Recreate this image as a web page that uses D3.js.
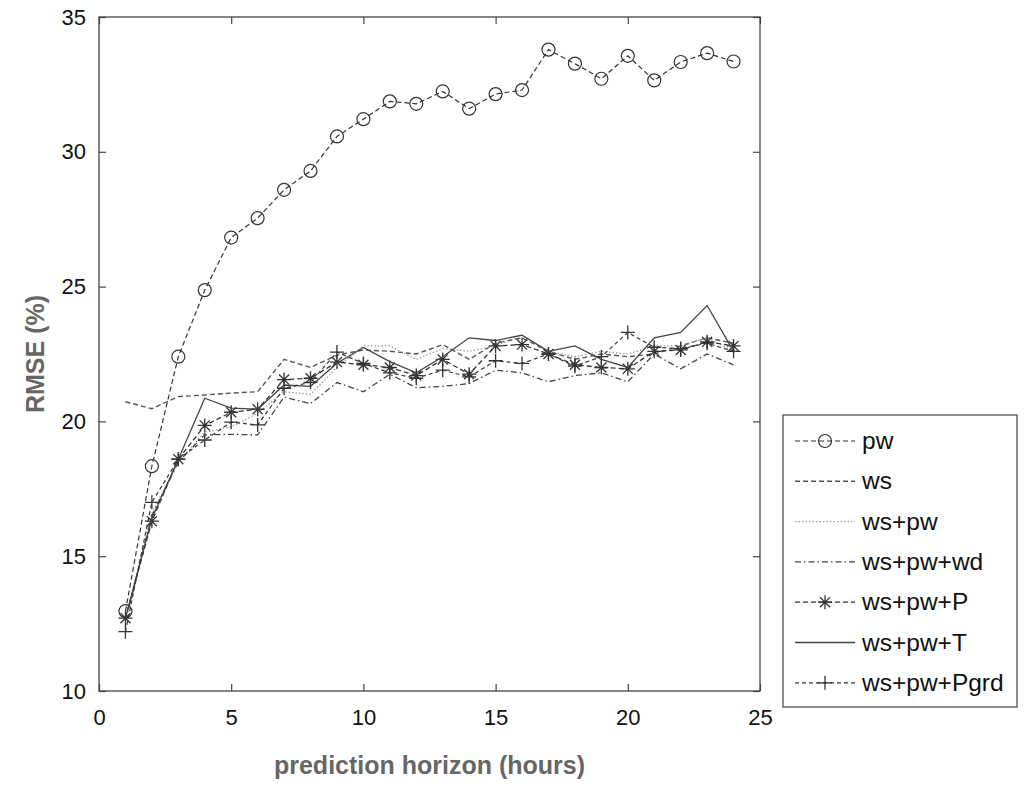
<!DOCTYPE html>
<html>
<head>
<meta charset="utf-8">
<script src="https://cdn.jsdelivr.net/npm/d3@7"></script>
<style>
  body { margin: 0; background: #fff; }
  text { font-family: "Liberation Sans", Arial, sans-serif; }
</style>
</head>
<body>
<div id="chart"></div>
<script>
/* DATA */
const hours = d3.range(1, 25);
const seriesNames = ["pw", "ws", "ws+pw", "ws+pw+wd", "ws+pw+P", "ws+pw+T", "ws+pw+Pgrd"];

const pw     = [12.96, 18.34, 22.4, 24.87, 26.82, 27.54, 28.59, 29.29, 30.57, 31.21, 31.87, 31.78,
                32.24, 31.6, 32.14, 32.29, 33.79, 33.27, 32.71, 33.56, 32.65, 33.33, 33.66, 33.35];
const ws     = [20.73, 20.47, 20.92, 20.98, 21.05, 21.1, 22.3, 22.0, 22.46, 22.65, 22.6, 22.5,
                22.85, 22.3, 22.9, 23.1, 22.6, 22.3, 22.5, 22.4, 22.5, 22.8, 23.1, 22.9];
const wsPw   = [12.7, 16.6, 18.5, 19.6, 19.8, 20.3, 21.1, 21.0, 22.0, 22.8, 22.8, 22.3,
                22.7, 22.6, 22.8, 23.2, 22.6, 22.4, 22.6, 22.5, 22.8, 22.8, 23.1, 22.6];
const wsPwWd = [12.6, 16.5, 18.5, 19.5, 19.52, 19.5, 20.9, 20.66, 21.44, 21.1, 21.75, 21.25,
                21.3, 21.4, 21.9, 21.8, 21.47, 21.7, 21.8, 21.47, 22.5, 21.95, 22.5, 22.1];
const wsPwP  = [12.7, 16.3, 18.6, 19.85, 20.34, 20.45, 21.55, 21.6, 22.2, 22.1, 22.0, 21.7,
                22.3, 21.75, 22.8, 22.85, 22.5, 22.1, 22.0, 21.95, 22.6, 22.65, 22.95, 22.8];
const wsPwT  = [12.7, 16.4, 18.6, 20.86, 20.49, 20.45, 21.35, 21.3, 22.16, 22.74, 22.22, 21.8,
                22.4, 23.1, 23.0, 23.2, 22.6, 22.8, 22.3, 22.0, 23.1, 23.3, 24.3, 22.6];
const wsPwPg = [12.2, 17.0, 18.6, 19.31, 19.97, 19.87, 21.23, 21.45, 22.57, 22.15, 21.8, 21.6,
                21.9, 21.65, 22.25, 22.15, 22.5, 22.05, 22.4, 23.3, 22.75, 22.7, 22.9, 22.6];

const xTicks = [0, 5, 10, 15, 20, 25];
const yTicks = [10, 15, 20, 25, 30, 35];

const values = [pw, ws, wsPw, wsPwWd, wsPwP, wsPwT, wsPwPg];

// line styles (MATLAB look)
const styles = [
  { dash: "5,3", color: "#333", width: 1.2, marker: "o" },
  { dash: "5,3", color: "#555", width: 1.4, marker: null },
  { dash: "1.5,2", color: "#999", width: 1.2, marker: null },
  { dash: "6,3,1.5,3", color: "#444", width: 1.3, marker: null },
  { dash: "5,3", color: "#333", width: 1.3, marker: "*" },
  { dash: null, color: "#444", width: 1.3, marker: null },
  { dash: "4,3", color: "#333", width: 1.2, marker: "+" }
];

const W = 1025, H = 785;
const margin = { top: 17, right: 265, bottom: 94, left: 99 };
const width = 760 - margin.left;
const height = 691 - margin.top;

const svg = d3.select("#chart").append("svg")
  .attr("width", W).attr("height", H);

const g = svg.append("g")
  .attr("transform", `translate(${margin.left},${margin.top})`);

const x = d3.scaleLinear().domain([0, 25]).range([0, width]);
const y = d3.scaleLinear().domain([10, 35]).range([height, 0]);

// axes with inward ticks
const tickLen = 7;
const axisColor = "#444";

const xAxis = d3.axisBottom(x).tickValues(xTicks).tickSizeInner(-tickLen).tickSizeOuter(0).tickPadding(18);
const yAxis = d3.axisLeft(y).tickValues(yTicks).tickSizeInner(-tickLen).tickSizeOuter(0).tickPadding(13);

g.append("g").attr("transform", `translate(0,${height})`).call(xAxis);
g.append("g").call(yAxis);

// top and right ticks
g.append("g").call(d3.axisTop(x).tickValues(xTicks).tickSizeInner(-tickLen).tickSizeOuter(0).tickFormat(""));
g.append("g").attr("transform", `translate(${width},0)`)
  .call(d3.axisRight(y).tickValues(yTicks).tickSizeInner(-tickLen).tickSizeOuter(0).tickFormat(""));

g.selectAll(".domain").remove();
g.selectAll(".tick line").attr("stroke", axisColor).attr("stroke-width", 1.2);
g.selectAll(".tick text").attr("font-size", 22).attr("fill", "#111");

g.append("rect")
  .attr("width", width).attr("height", height)
  .attr("fill", "none").attr("stroke", axisColor).attr("stroke-width", 1.3);

// axis titles
svg.append("text")
  .attr("x", margin.left + width / 2).attr("y", 774)
  .attr("text-anchor", "middle")
  .attr("font-size", 25).attr("font-weight", "bold").attr("fill", "#666")
  .text("prediction horizon (hours)");

svg.append("text")
  .attr("transform", `translate(44,${margin.top + height / 2}) rotate(-90)`)
  .attr("text-anchor", "middle")
  .attr("font-size", 25).attr("font-weight", "bold").attr("fill", "#666")
  .text("RMSE (%)");

// markers
function drawMarker(sel, type, cx, cy, color) {
  if (type === "o") {
    sel.append("circle").attr("cx", cx).attr("cy", cy).attr("r", 6.5)
      .attr("fill", "none").attr("stroke", color).attr("stroke-width", 1.2);
  } else if (type === "+") {
    const s = 7;
    sel.append("path").attr("d", `M${cx - s},${cy}H${cx + s}M${cx},${cy - s}V${cy + s}`)
      .attr("stroke", color).attr("stroke-width", 1.3);
  } else if (type === "*") {
    const s = 7, d = s * 0.72;
    sel.append("path")
      .attr("d", `M${cx - s},${cy}H${cx + s}M${cx},${cy - s}V${cy + s}` +
                 `M${cx - d},${cy - d}L${cx + d},${cy + d}M${cx - d},${cy + d}L${cx + d},${cy - d}`)
      .attr("stroke", color).attr("stroke-width", 1.3);
  }
}

const line = d3.line().x((d, i) => x(hours[i])).y(d => y(d));

// draw series
values.forEach((vals, k) => {
  const st = styles[k];
  g.append("path")
    .datum(vals)
    .attr("d", line)
    .attr("fill", "none")
    .attr("stroke", st.color)
    .attr("stroke-width", st.width)
    .attr("stroke-dasharray", st.dash);
  if (st.marker) {
    const mg = g.append("g");
    vals.forEach((v, i) => drawMarker(mg, st.marker, x(hours[i]), y(v), st.color));
  }
});

// legend
const legX = 783, legY = 415, legW = 234, legH = 292, rowH = 40.3;
const legend = svg.append("g");
legend.append("rect")
  .attr("x", legX).attr("y", legY).attr("width", legW).attr("height", legH)
  .attr("fill", "#fff").attr("stroke", axisColor).attr("stroke-width", 1.2);

seriesNames.forEach((name, k) => {
  const st = styles[k];
  const cy = legY + 26 + k * rowH;
  legend.append("line")
    .attr("x1", legX + 12).attr("x2", legX + 72)
    .attr("y1", cy).attr("y2", cy)
    .attr("stroke", st.color).attr("stroke-width", st.width)
    .attr("stroke-dasharray", st.dash);
  if (st.marker) drawMarker(legend, st.marker, legX + 42, cy, st.color);
  legend.append("text")
    .attr("x", legX + 79).attr("y", cy + 8)
    .attr("font-size", 24.5).attr("fill", "#111")
    .text(name);
});
</script>
</body>
</html>
